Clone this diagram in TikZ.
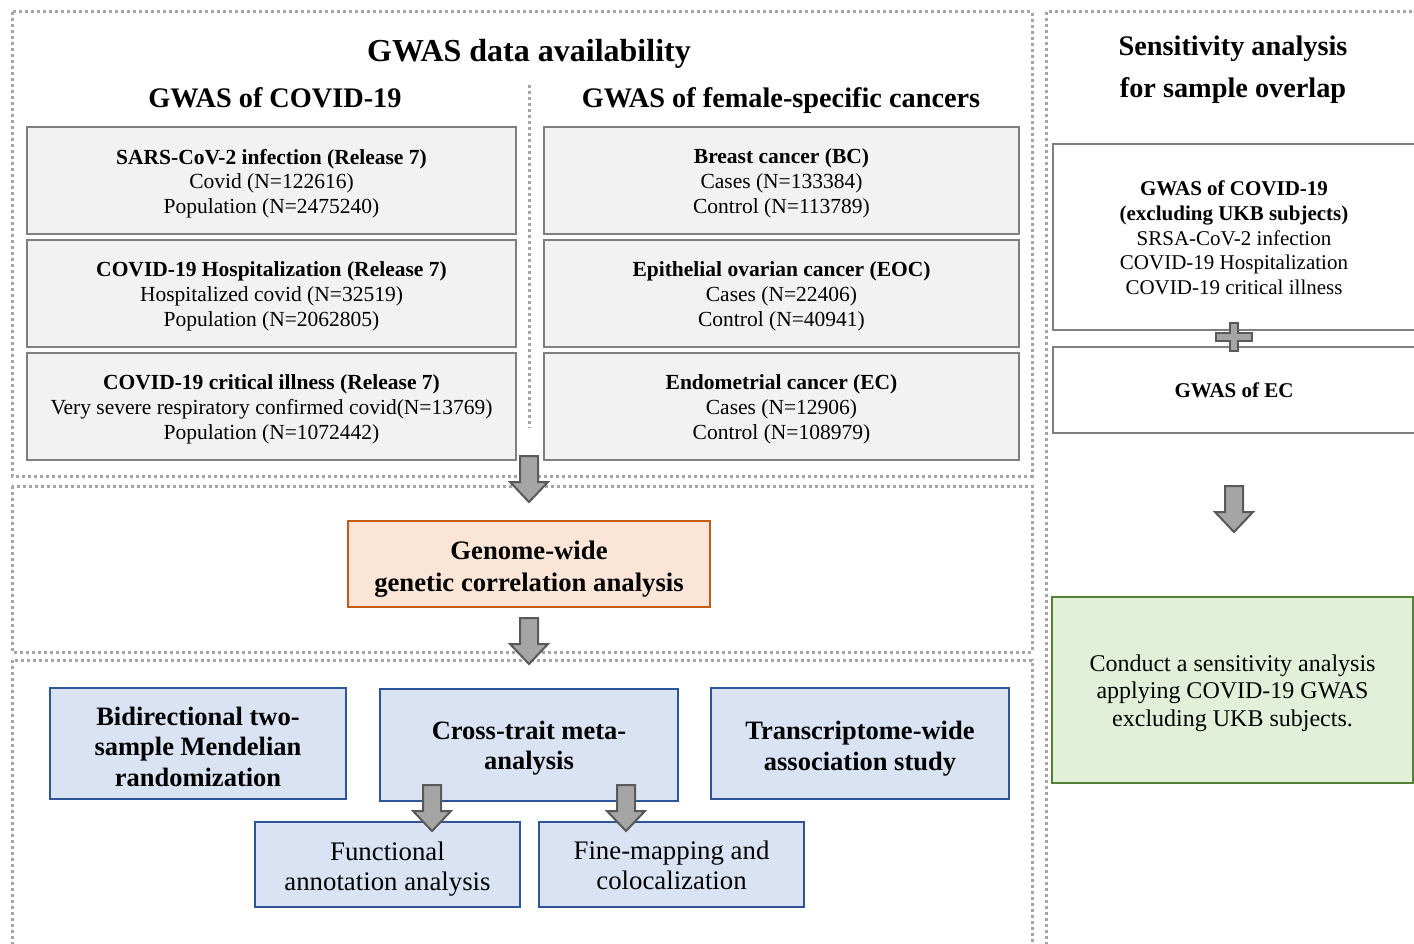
\documentclass[tikz,border=0pt]{standalone}
\usepackage{fontspec}
\setmainfont{Liberation Serif}
\definecolor{dotgray}{HTML}{A6A6A6}
\definecolor{boxfill}{HTML}{F2F2F2}
\definecolor{boxdraw}{HTML}{7F7F7F}
\definecolor{orfill}{HTML}{FBE5D6}
\definecolor{ordraw}{HTML}{C55A11}
\definecolor{blfill}{HTML}{DAE3F3}
\definecolor{bldraw}{HTML}{2F5597}
\definecolor{grfill}{HTML}{E2F0D9}
\definecolor{grdraw}{HTML}{548235}
\definecolor{arfill}{HTML}{A5A5A5}
\definecolor{ardraw}{HTML}{595959}
\tikzset{
  frame/.style={draw=dotgray, line width=3pt, dash pattern=on 3pt off 3pt},
  txt/.style={align=center, inner sep=0pt},
  databox/.style={draw=boxdraw, fill=boxfill, line width=2.5pt, inner sep=0pt, minimum height=107pt},
  datatxt/.style={txt, font=\fontsize{21.5}{24.7}\selectfont},
  whitebox/.style={draw=boxdraw, fill=white, line width=2.5pt, inner sep=0pt},
  whitetxt/.style={txt, font=\fontsize{21}{24.7}\selectfont},
  orbox/.style={draw=ordraw, fill=orfill, line width=2.5pt, inner sep=0pt},
  ortxt/.style={txt, font=\bfseries\fontsize{26.7}{31.5}\selectfont},
  blbox/.style={draw=bldraw, fill=blfill, line width=2.5pt, inner sep=0pt},
  bltxt/.style={txt, font=\bfseries\fontsize{26.5}{30.5}\selectfont},
  bltxtr/.style={txt, font=\fontsize{26.8}{30}\selectfont},
  grbox/.style={draw=grdraw, fill=grfill, line width=2.5pt, inner sep=0pt},
  grtxt/.style={txt, font=\fontsize{24}{27.5}\selectfont},
  heading/.style={font=\bfseries\fontsize{28.3}{34}\selectfont, anchor=base, inner sep=0pt},
  blockarrow/.pic={
    \draw[fill=arfill, draw=ardraw, line width=2pt, line join=miter]
      (-9,0) -- (9,0) -- (9,26) -- (19,26) -- (0,46) -- (-19,26) -- (-9,26) -- cycle;}
}
\begin{document}
\begin{tikzpicture}[x=1pt, y=-1pt]
\useasboundingbox (0,0) rectangle (1414,944);
\clip (0,0) rectangle (1414,944);
\fill[white] (0,0) rectangle (1414,944);

% dotted frames
\draw[frame] (12,12) rectangle (1032,476);
\draw[frame] (12,486) rectangle (1032,652);
\draw[frame] (12,660) rectangle (1032,960);
\draw[frame] (1046,12) rectangle (1430,960);
\draw[frame] (529,85) -- (529,428);

% headings
\node[heading, font=\bfseries\fontsize{32}{36}\selectfont] (title) at (529,62) {GWAS data availability};
\node[heading] (hcovid) at (275,108) {GWAS of COVID-19};
\node[heading] (hcancer) at (781,108) {GWAS of female-specific cancers};
\node[heading] (hsens1) at (1233,56) {Sensitivity analysis};
\node[heading] (hsens2) at (1233,98) {for sample overlap};

% COVID boxes
\node[databox, minimum width=489pt] (c1) at (271.5,180.5) {};
\node[datatxt] (c1t) at (271.5,183.5) {\textbf{SARS-CoV-2 infection (Release 7)}\\Covid (N=122616)\\Population (N=2475240)};
\node[databox, minimum width=489pt] (c2) at (271.5,293.5) {};
\node[datatxt] (c2t) at (271.5,296.5) {\textbf{COVID-19 Hospitalization (Release 7)}\\Hospitalized covid (N=32519)\\Population (N=2062805)};
\node[databox, minimum width=489pt] (c3) at (271.5,406.5) {};
\node[datatxt] (c3t) at (271.5,409.5) {\textbf{COVID-19 critical illness (Release 7)}\\Very severe respiratory confirmed covid(N=13769)\\Population (N=1072442)};

% cancer boxes
\node[databox, minimum width=475pt] (k1) at (781.5,180.5) {};
\node[datatxt] (k1t) at (781.5,183.5) {\textbf{Breast cancer (BC)}\\Cases (N=133384)\\Control (N=113789)};
\node[databox, minimum width=475pt] (k2) at (781.5,293.5) {};
\node[datatxt] (k2t) at (781.5,296.5) {\textbf{Epithelial ovarian cancer (EOC)}\\Cases (N=22406)\\Control (N=40941)};
\node[databox, minimum width=475pt] (k3) at (781.5,406.5) {};
\node[datatxt] (k3t) at (781.5,409.5) {\textbf{Endometrial cancer (EC)}\\Cases (N=12906)\\Control (N=108979)};

% sensitivity boxes
\node[whitebox, minimum width=367pt, minimum height=186pt] (s1) at (1236.5,237) {};
\node[whitetxt] (s1t) at (1234,238) {\textbf{GWAS of COVID-19}\\\textbf{(excluding UKB subjects)}\\SRSA-CoV-2 infection\\COVID-19 Hospitalization\\COVID-19 critical illness};
\node[whitebox, minimum width=367pt, minimum height=86pt] (s2) at (1236.5,390) {};
\node[whitetxt, font=\bfseries\fontsize{21}{24.7}\selectfont] (s2t) at (1234,390) {GWAS of EC};
\draw[fill=arfill, draw=ardraw, line width=2pt] (1216,333) -- (1230,333) -- (1230,323) -- (1238,323) -- (1238,333) -- (1252,333) -- (1252,341) -- (1238,341) -- (1238,351) -- (1230,351) -- (1230,341) -- (1216,341) -- cycle;
\node[grbox, minimum width=361pt, minimum height=186pt] (g) at (1232.5,690) {};
\node[grtxt] (gt) at (1232.5,693) {Conduct a sensitivity analysis\\applying COVID-19 GWAS\\excluding UKB subjects.};

% middle
\node[orbox, minimum width=362pt, minimum height=86pt] (gc) at (529,564) {};
\node[ortxt] (gct) at (529,569) {Genome-wide\\genetic correlation analysis};

% bottom
\node[blbox, minimum width=296pt, minimum height=111pt] (mr) at (198,743.5) {};
\node[bltxt] (mrt) at (198,746.5) {Bidirectional two-\\sample Mendelian\\randomization};
\node[blbox, minimum width=298pt, minimum height=112pt] (ct) at (529,745) {};
\node[bltxt] (ctt) at (529,748) {Cross-trait meta-\\analysis};
\node[blbox, minimum width=298pt, minimum height=111pt] (tw) at (860,743.5) {};
\node[bltxt] (twt) at (860,748.5) {Transcriptome-wide\\association study};
\node[blbox, minimum width=265pt, minimum height=85pt] (fa) at (387.5,864.5) {};
\node[bltxtr] (fat) at (387.5,869.5) {Functional\\annotation analysis};
\node[blbox, minimum width=265pt, minimum height=85pt] (fm) at (671.5,864.5) {};
\node[bltxtr] (fmt) at (671.5,865.5) {Fine-mapping and\\colocalization};

% block arrows
\pic at (529,456) {blockarrow};
\pic at (529,618) {blockarrow};
\pic at (1234,486) {blockarrow};
\pic at (432,785) {blockarrow};
\pic at (626,785) {blockarrow};
\end{tikzpicture}
\end{document}
